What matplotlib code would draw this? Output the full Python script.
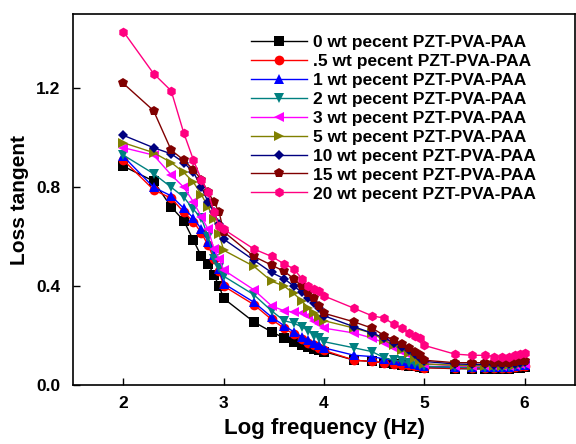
"""Loss tangent vs log frequency for PZT-PVA-PAA composites."""

import matplotlib
matplotlib.use("Agg")
import matplotlib.pyplot as plt
import numpy as np

plt.rcParams['font.family'] = ['Liberation Sans', 'DejaVu Sans']
plt.rcParams['font.weight'] = 'bold'

# frequencies 1..9 x 10^k, 100 Hz .. 1 MHz
freqs = [m * 10 ** k for k in range(2, 6) for m in range(1, 10)] + [10 ** 6]
log_f = np.log10(freqs)

labels = [
    "0 wt pecent PZT-PVA-PAA",
    ".5 wt pecent PZT-PVA-PAA",
    "1 wt pecent PZT-PVA-PAA",
    "2 wt pecent PZT-PVA-PAA",
    "3 wt pecent PZT-PVA-PAA",
    "5 wt pecent PZT-PVA-PAA",
    "10 wt pecent PZT-PVA-PAA",
    "15 wt pecent PZT-PVA-PAA",
    "20 wt pecent PZT-PVA-PAA",
]

wt0 = [0.885, 0.825, 0.72, 0.665, 0.585, 0.52, 0.49, 0.445, 0.40,
       0.35, 0.255, 0.215, 0.19, 0.175, 0.16, 0.155, 0.145, 0.14,
       0.135, 0.10, 0.095, 0.09, 0.085, 0.08, 0.078, 0.075, 0.072,
       0.07, 0.066, 0.065, 0.065, 0.065, 0.065, 0.066, 0.068, 0.07, 0.072]
wt05 = [0.91, 0.79, 0.755, 0.70, 0.66, 0.615, 0.565, 0.51, 0.46,
        0.40, 0.325, 0.265, 0.23, 0.205, 0.185, 0.17, 0.16, 0.15,
        0.14, 0.10, 0.095, 0.09, 0.085, 0.08, 0.08, 0.075, 0.075,
        0.07, 0.068, 0.068, 0.068, 0.068, 0.068, 0.07, 0.072, 0.075, 0.078]
wt1 = [0.925, 0.80, 0.765, 0.715, 0.675, 0.63, 0.58, 0.525, 0.47,
       0.41, 0.335, 0.275, 0.24, 0.215, 0.195, 0.18, 0.17, 0.16,
       0.15, 0.12, 0.115, 0.105, 0.10, 0.095, 0.09, 0.085, 0.08,
       0.075, 0.072, 0.072, 0.072, 0.072, 0.072, 0.074, 0.076, 0.08, 0.082]
wt2 = [0.93, 0.855, 0.80, 0.76, 0.71, 0.675, 0.60, 0.51, 0.475,
       0.44, 0.365, 0.30, 0.26, 0.25, 0.235, 0.22, 0.20, 0.19,
       0.175, 0.15, 0.135, 0.11, 0.10, 0.095, 0.09, 0.085, 0.08,
       0.075, 0.072, 0.07, 0.07, 0.07, 0.07, 0.072, 0.075, 0.078, 0.08]
wt3 = [0.96, 0.93, 0.85, 0.80, 0.74, 0.68, 0.63, 0.55, 0.51,
       0.465, 0.385, 0.32, 0.30, 0.295, 0.29, 0.28, 0.26, 0.245,
       0.23, 0.21, 0.19, 0.17, 0.15, 0.135, 0.12, 0.105, 0.095,
       0.085, 0.078, 0.075, 0.075, 0.075, 0.075, 0.077, 0.08, 0.083, 0.086]
wt5 = [0.98, 0.94, 0.90, 0.86, 0.82, 0.77, 0.72, 0.67, 0.61,
       0.545, 0.48, 0.42, 0.40, 0.37, 0.34, 0.31, 0.29, 0.275,
       0.26, 0.23, 0.21, 0.18, 0.16, 0.14, 0.13, 0.11, 0.10,
       0.085, 0.08, 0.078, 0.078, 0.078, 0.078, 0.08, 0.082, 0.086, 0.09]
wt10 = [1.01, 0.96, 0.935, 0.90, 0.86, 0.80, 0.74, 0.70, 0.65,
        0.59, 0.505, 0.455, 0.43, 0.40, 0.375, 0.35, 0.33, 0.31,
        0.28, 0.235, 0.21, 0.19, 0.17, 0.155, 0.14, 0.125, 0.11,
        0.095, 0.085, 0.083, 0.083, 0.082, 0.082, 0.084, 0.086, 0.09, 0.092]
wt15 = [1.22, 1.11, 0.95, 0.91, 0.87, 0.83, 0.78, 0.74, 0.70,
        0.62, 0.52, 0.485, 0.46, 0.43, 0.40, 0.37, 0.35, 0.32,
        0.29, 0.255, 0.23, 0.20, 0.18, 0.165, 0.15, 0.135, 0.12,
        0.10, 0.09, 0.09, 0.09, 0.087, 0.087, 0.09, 0.092, 0.095, 0.097]
wt20 = [1.43, 1.26, 1.19, 1.02, 0.91, 0.83, 0.78, 0.70, 0.645,
        0.63, 0.55, 0.52, 0.49, 0.47, 0.43, 0.40, 0.39, 0.38,
        0.36, 0.31, 0.28, 0.27, 0.245, 0.23, 0.21, 0.20, 0.19,
        0.16, 0.125, 0.12, 0.12, 0.115, 0.112, 0.115, 0.12, 0.125, 0.13]

series = [wt0, wt05, wt1, wt2, wt3, wt5, wt10, wt15, wt20]
colors = ['#000000', '#FF0000', '#0000FF', '#008080', '#FF00FF',
          '#808000', '#000080', '#800000', '#FF0080']
markers = ['s', 'o', '^', 'v', '<', '>', 'D', 'p', 'h']

fig = plt.figure(figsize=(5.76, 4.44), dpi=100)
ax = fig.add_axes([0.127, 0.133, 0.871, 0.835])

for vals, lab, col, mk in zip(series, labels, colors, markers):
    ms = 5.5 if mk == 'D' else 7
    ax.plot(log_f, vals, color=col, marker=mk, markersize=ms, linewidth=1,
            markeredgewidth=0, label=lab)

ax.set_xlim(1.5, 6.5)
ax.set_ylim(0, 1.5)
ax.set_xticks([2, 3, 4, 5, 6])
ax.set_yticks([0.0, 0.4, 0.8, 1.2])
ax.set_yticklabels(["0.0", "0.4", "0.8", "1.2"])
ax.tick_params(direction='in', length=5, width=1, labelsize=12.5)
ax.tick_params(axis='x', pad=8)
ax.tick_params(axis='y', pad=9)
for lbl in ax.get_xticklabels() + ax.get_yticklabels():
    lbl.set_fontweight('bold')
for sp in ax.spines.values():
    sp.set_linewidth(1.2)

ax.set_xlabel("Log frequency (Hz)", fontsize=16, fontweight='bold', labelpad=5)
ax.set_ylabel("Loss tangent", fontsize=15, fontweight='bold', labelpad=5)

ax.legend(loc='upper left', bbox_to_anchor=(0.355, 0.945), frameon=False,
          handlelength=3.2, handletextpad=0.35, labelspacing=0.22,
          borderpad=0, borderaxespad=0, prop={'weight': 'bold', 'size': 12.5})

fig.savefig("out.png", dpi=100)
